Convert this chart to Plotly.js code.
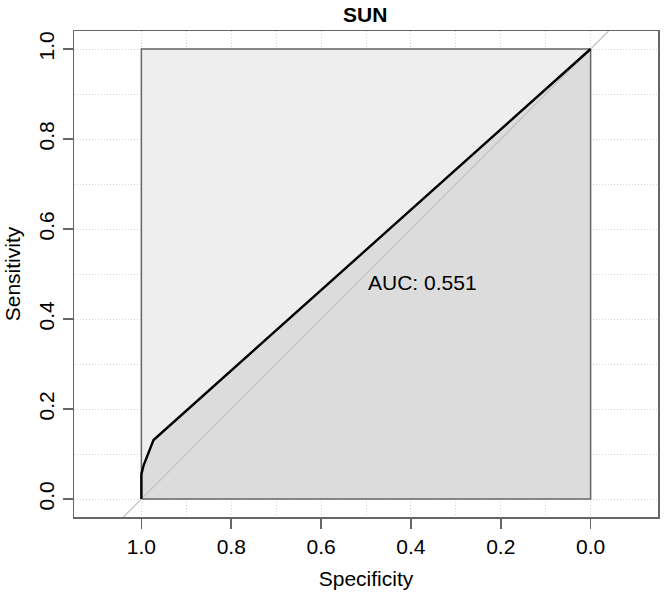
<!DOCTYPE html>
<html>
<head>
<meta charset="utf-8">
<script src="https://cdn.plot.ly/plotly-3.0.1.min.js"></script>
<style>
  html, body { margin: 0; padding: 0; background: #fff; }
  #roc { width: 664px; height: 596px; }
</style>
</head>
<body>
<div id="roc"></div>
<script>
'use strict';

// ROC curve points (specificity runs 1 -> 0)
var specificity = [1.0, 1.0, 0.995, 0.973, 0.0];
var sensitivity = [0.0, 0.055, 0.075, 0.131, 1.0];

// the "max AUC" square and the chance diagonal
var maxSpec = [1, 1, 0, 0, 1];
var maxSens = [0, 1, 1, 0, 0];
var diagSpec = [1.04, -0.04];
var diagSens = [-0.04, 1.04];

var tickValues = [1.0, 0.8, 0.6, 0.4, 0.2, 0.0];
var tickLabels = ['1.0', '0.8', '0.6', '0.4', '0.2', '0.0'];
var gridMinor = [0.1, 0.3, 0.5, 0.7, 0.9];

var aucLabel = 'AUC: 0.551';
var aucPos = [0.5, 0.5];

function drawRoc(divName) {

    var data, layout, aucX, aucY, font, grid;

    // polygon under the curve, closed back along the x axis
    aucX = specificity.concat([0, 1]);
    aucY = sensitivity.concat([0, 0]);

    font = {family: 'Liberation Sans, Arial, sans-serif', size: 21, color: '#000'};
    grid = {color: '#d4d4d4', dash: '1px,2px'};

    data = [
        {
            x: maxSpec, y: maxSens, type: 'scatter', mode: 'lines',
            fill: 'toself', fillcolor: '#EEEEEE',
            line: {color: 'rgba(0,0,0,0)', width: 0}
        },
        {
            x: aucX, y: aucY, type: 'scatter', mode: 'lines',
            fill: 'toself', fillcolor: '#DCDCDC',
            line: {color: 'rgba(0,0,0,0)', width: 0}
        },
        {
            x: maxSpec, y: maxSens, type: 'scatter', mode: 'lines',
            line: {color: '#666', width: 1.5}
        },
        {
            x: diagSpec, y: diagSens, type: 'scatter', mode: 'lines',
            line: {color: '#c4c4c4', width: 1.3}
        },
        {
            x: specificity, y: sensitivity, type: 'scatter', mode: 'lines',
            line: {color: '#000', width: 2.4}
        }
    ];

    layout = {
        width: 664,
        height: 596,
        showlegend: false,
        paper_bgcolor: '#fff',
        plot_bgcolor: '#fff',
        font: font,
        margin: {l: 73.5, r: 5.5, t: 31, b: 79},
        title: {
            text: '<b>SUN</b>',
            font: {family: font.family, size: 21, color: '#000'},
            x: 0.55, xanchor: 'center', y: 0.976, yanchor: 'middle'
        },
        xaxis: {
            range: [1.15, -0.15],
            tickmode: 'array', tickvals: tickValues, ticktext: tickLabels,
            ticks: 'outside', ticklen: 10, tickwidth: 1.5, tickcolor: '#666',
            showline: true, mirror: true, linecolor: '#666', linewidth: 1.5,
            showgrid: true, gridcolor: grid.color, griddash: grid.dash, gridwidth: 1,
            minor: {tickvals: gridMinor, showgrid: true, gridcolor: grid.color, griddash: grid.dash, gridwidth: 1, ticks: ''},
            zeroline: false,
            tickfont: font,
            title: {text: 'Specificity', font: font, standoff: 14}
        },
        yaxis: {
            range: [-0.04, 1.04],
            tickmode: 'array', tickvals: tickValues, ticktext: tickLabels,
            tickangle: -90,
            ticks: 'outside', ticklen: 10, tickwidth: 1.5, tickcolor: '#666',
            showline: true, mirror: true, linecolor: '#666', linewidth: 1.5,
            showgrid: true, gridcolor: grid.color, griddash: grid.dash, gridwidth: 1,
            minor: {tickvals: gridMinor, showgrid: true, gridcolor: grid.color, griddash: grid.dash, gridwidth: 1, ticks: ''},
            zeroline: false,
            tickfont: font,
            title: {text: 'Sensitivity', font: font, standoff: 8}
        },
        annotations: [
            {
                x: aucPos[0], y: aucPos[1], xref: 'x', yref: 'y',
                text: aucLabel, showarrow: false,
                xanchor: 'left', yanchor: 'top', yshift: 5,
                font: font
            }
        ]
    };

    Plotly.newPlot(divName, data, layout, {displayModeBar: false, staticPlot: true});
}

drawRoc('roc');
</script>
</body>
</html>
